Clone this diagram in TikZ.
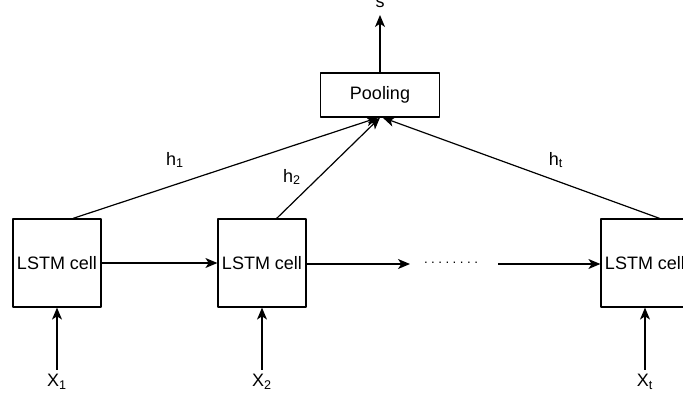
\documentclass[tikz,border=0pt]{standalone}
\usepackage{fontspec}
\setmainfont{Liberation Sans}
\usetikzlibrary{arrows.meta}
\begin{document}
\begin{tikzpicture}[x=0.75pt,y=-0.75pt,>={Stealth[length=9pt,width=7.5pt,inset=2.5pt]},line join=round,font=\fontsize{13.5}{15}\selectfont,
	cell/.style={draw,line width=0.9pt,minimum width=66pt,minimum height=66pt,inner sep=0pt},
	pool/.style={draw,line width=0.9pt,minimum width=89pt,minimum height=33pt,inner sep=0pt},
	conn/.style={line width=0.9pt}]
	\useasboundingbox (0,0) rectangle (683,401);
	\clip (0,0) rectangle (683,401);
	\node[cell] (c1) at (57,263) {LSTM cell};
	\node[cell] (c2) at (262,263) {LSTM cell};
	\node[cell] (ct) at (645,263) {LSTM cell};
	\node[pool] (pool) at (380,95) {\raisebox{-1.5pt}{Pooling}};
	\node (s) at (380,3) {s};
	\node (x1) at (57,382) {X\textsubscript{1}};
	\node (x2) at (262,382) {X\textsubscript{2}};
	\node (xt) at (645,382) {X\textsubscript{t}};
	\node (dots) at (451,263) {\fontsize{10}{12}\selectfont .\kern2.6pt.\kern2.6pt.\kern2.6pt.\kern2.6pt.\kern2.6pt.\kern2.6pt.\kern2.6pt.};
	\coordinate (a2) at (410,264);
	\coordinate (at) at (498,264);
	\coordinate (stop) at (380,15);
	% recurrent links
	\draw[conn,->] (c1) -- (c2);
	\draw[conn,->] (c2.east |- a2) -- (a2);
	\draw[conn,->] (at) -- (ct.west |- at);
	% inputs
	\foreach \x/\c in {x1/c1,x2/c2,xt/ct}
		\draw[conn,->] (\x.north) -- (\c.south);
	% hidden states to pooling
	\draw[conn,->] ([xshift=12pt]c1.north) -- ([xshift=-1.5pt]pool.south);
	\draw[conn,->] ([xshift=11pt]c2.north) -- (pool.south);
	\draw[conn,->] ([xshift=11pt]ct.north) -- ([xshift=2pt]pool.south);
	\node (h1) at (175,160) {h\textsubscript{1}};
	\node (h2) at (292,177) {h\textsubscript{2}};
	\node (ht) at (556,160) {h\textsubscript{t}};
	\draw[conn,->] (pool.north) -- (stop);
\end{tikzpicture}
\end{document}
